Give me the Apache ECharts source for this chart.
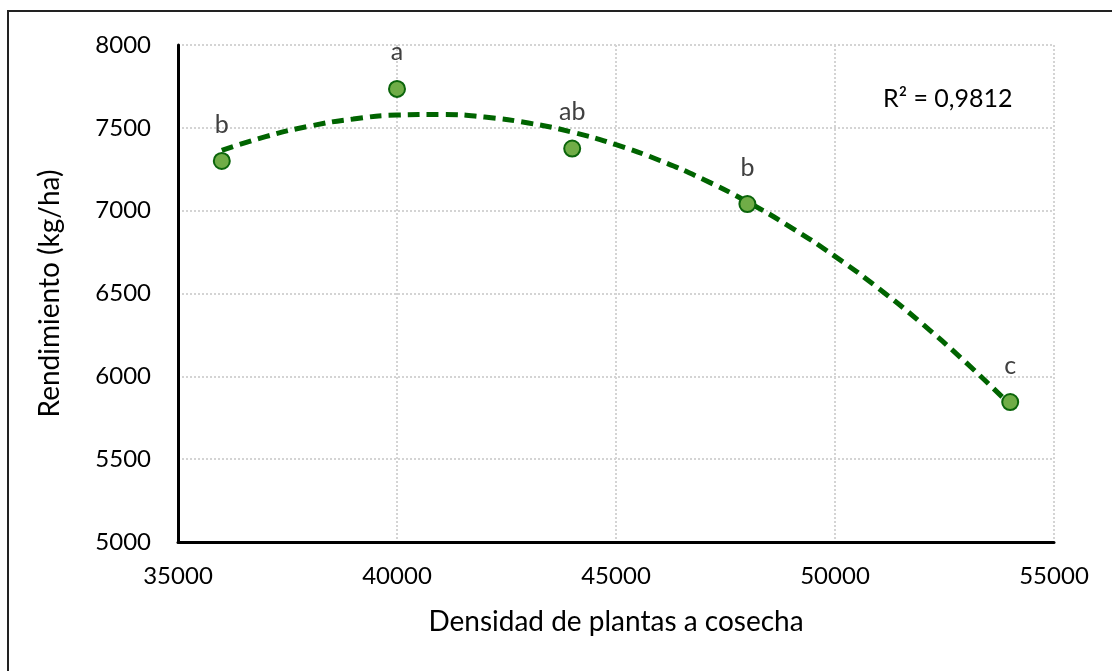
<!DOCTYPE html>
<html>
<head>
<meta charset="utf-8">
<script src="https://cdn.jsdelivr.net/npm/echarts@6/dist/echarts.min.js"></script>
<style>
html,body{margin:0;padding:0;background:#fff;}
#c{width:1112px;height:671px;}
</style>
</head>
<body>
<div id="c"></div>
<script>
// Observed points
const densidad = [36000, 40000, 44000, 48000, 54000];
const rendimiento = [7300, 7735, 7375, 7040, 5845];
const letras = ['b', 'a', 'ab', 'b', 'c'];
// Polynomial trendline (order 2)
const trendX = [36000, 37000, 38000, 39000, 40000, 41000, 42000, 43000, 44000, 45000, 46000, 47000, 48000, 49000, 50000, 51000, 52000, 53000, 54000];
const trendY = [7364, 7447, 7510, 7553, 7577, 7581, 7565, 7529, 7474, 7398, 7303, 7188, 7053, 6898, 6724, 6530, 6315, 6081, 5828];
const r2Text = 'R² = 0,9812';
const xTitle = 'Densidad de plantas a cosecha';
const yTitle = 'Rendimiento (kg/ha)';

const font = 'Lato, "Open Sans", sans-serif';
const chart = echarts.init(document.getElementById('c'), null, {renderer: 'canvas'});
chart.setOption({
  animation: false,
  backgroundColor: '#fff',
  grid: {left: 178, top: 45, width: 876, height: 497, containLabel: false},
  xAxis: {
    type: 'value', min: 35000, max: 55000, interval: 5000,
    name: xTitle, nameLocation: 'middle', nameGap: 66,
    nameTextStyle: {fontFamily: font, fontSize: 28, color: '#000'},
    axisLine: {show: true, onZero: false, lineStyle: {color: '#000', width: 3}},
    axisTick: {show: false},
    axisLabel: {fontFamily: font, fontSize: 24, color: '#000', margin: 22, formatter: v => String(v)},
    splitLine: {show: true, lineStyle: {color: '#d4d4d4', width: 2, type: [2, 2]}}
  },
  yAxis: {
    type: 'value', min: 5000, max: 8000, interval: 500,
    name: yTitle, nameLocation: 'middle', nameGap: 114,
    nameTextStyle: {fontFamily: font, fontSize: 28, color: '#000'},
    axisLine: {show: true, onZero: false, lineStyle: {color: '#000', width: 3}},
    axisTick: {show: false},
    axisLabel: {fontFamily: font, fontSize: 24, color: '#000', margin: 27, formatter: v => String(v)},
    splitLine: {show: true, lineStyle: {color: '#d4d4d4', width: 2, type: [2, 2]}}
  },
  series: [
    {
      type: 'line',
      data: trendX.map((x, i) => [x, trendY[i]]),
      smooth: true,
      showSymbol: false,
      lineStyle: {color: '#006400', width: 5, type: [12, 7]},
      z: 3
    },
    {
      type: 'scatter',
      data: densidad.map((x, i) => [x, rendimiento[i]]),
      symbolSize: 16,
      itemStyle: {color: '#70ad47', borderColor: '#0b650b', borderWidth: 2, opacity: 1},
      label: {
        show: true, position: 'top', distance: 15,
        formatter: p => letras[p.dataIndex],
        fontFamily: font, fontSize: 25, color: '#404040'
      },
      z: 4
    }
  ],
  graphic: [
    {type: 'rect', shape: {x: 8, y: 11, width: 1120, height: 700},
     style: {fill: null, stroke: '#222', lineWidth: 2}, silent: true},
    {type: 'text', left: 883, top: 86,
     style: {text: r2Text, fontFamily: font, fontSize: 25, fill: '#000'}}
  ]
});
</script>
</body>
</html>
